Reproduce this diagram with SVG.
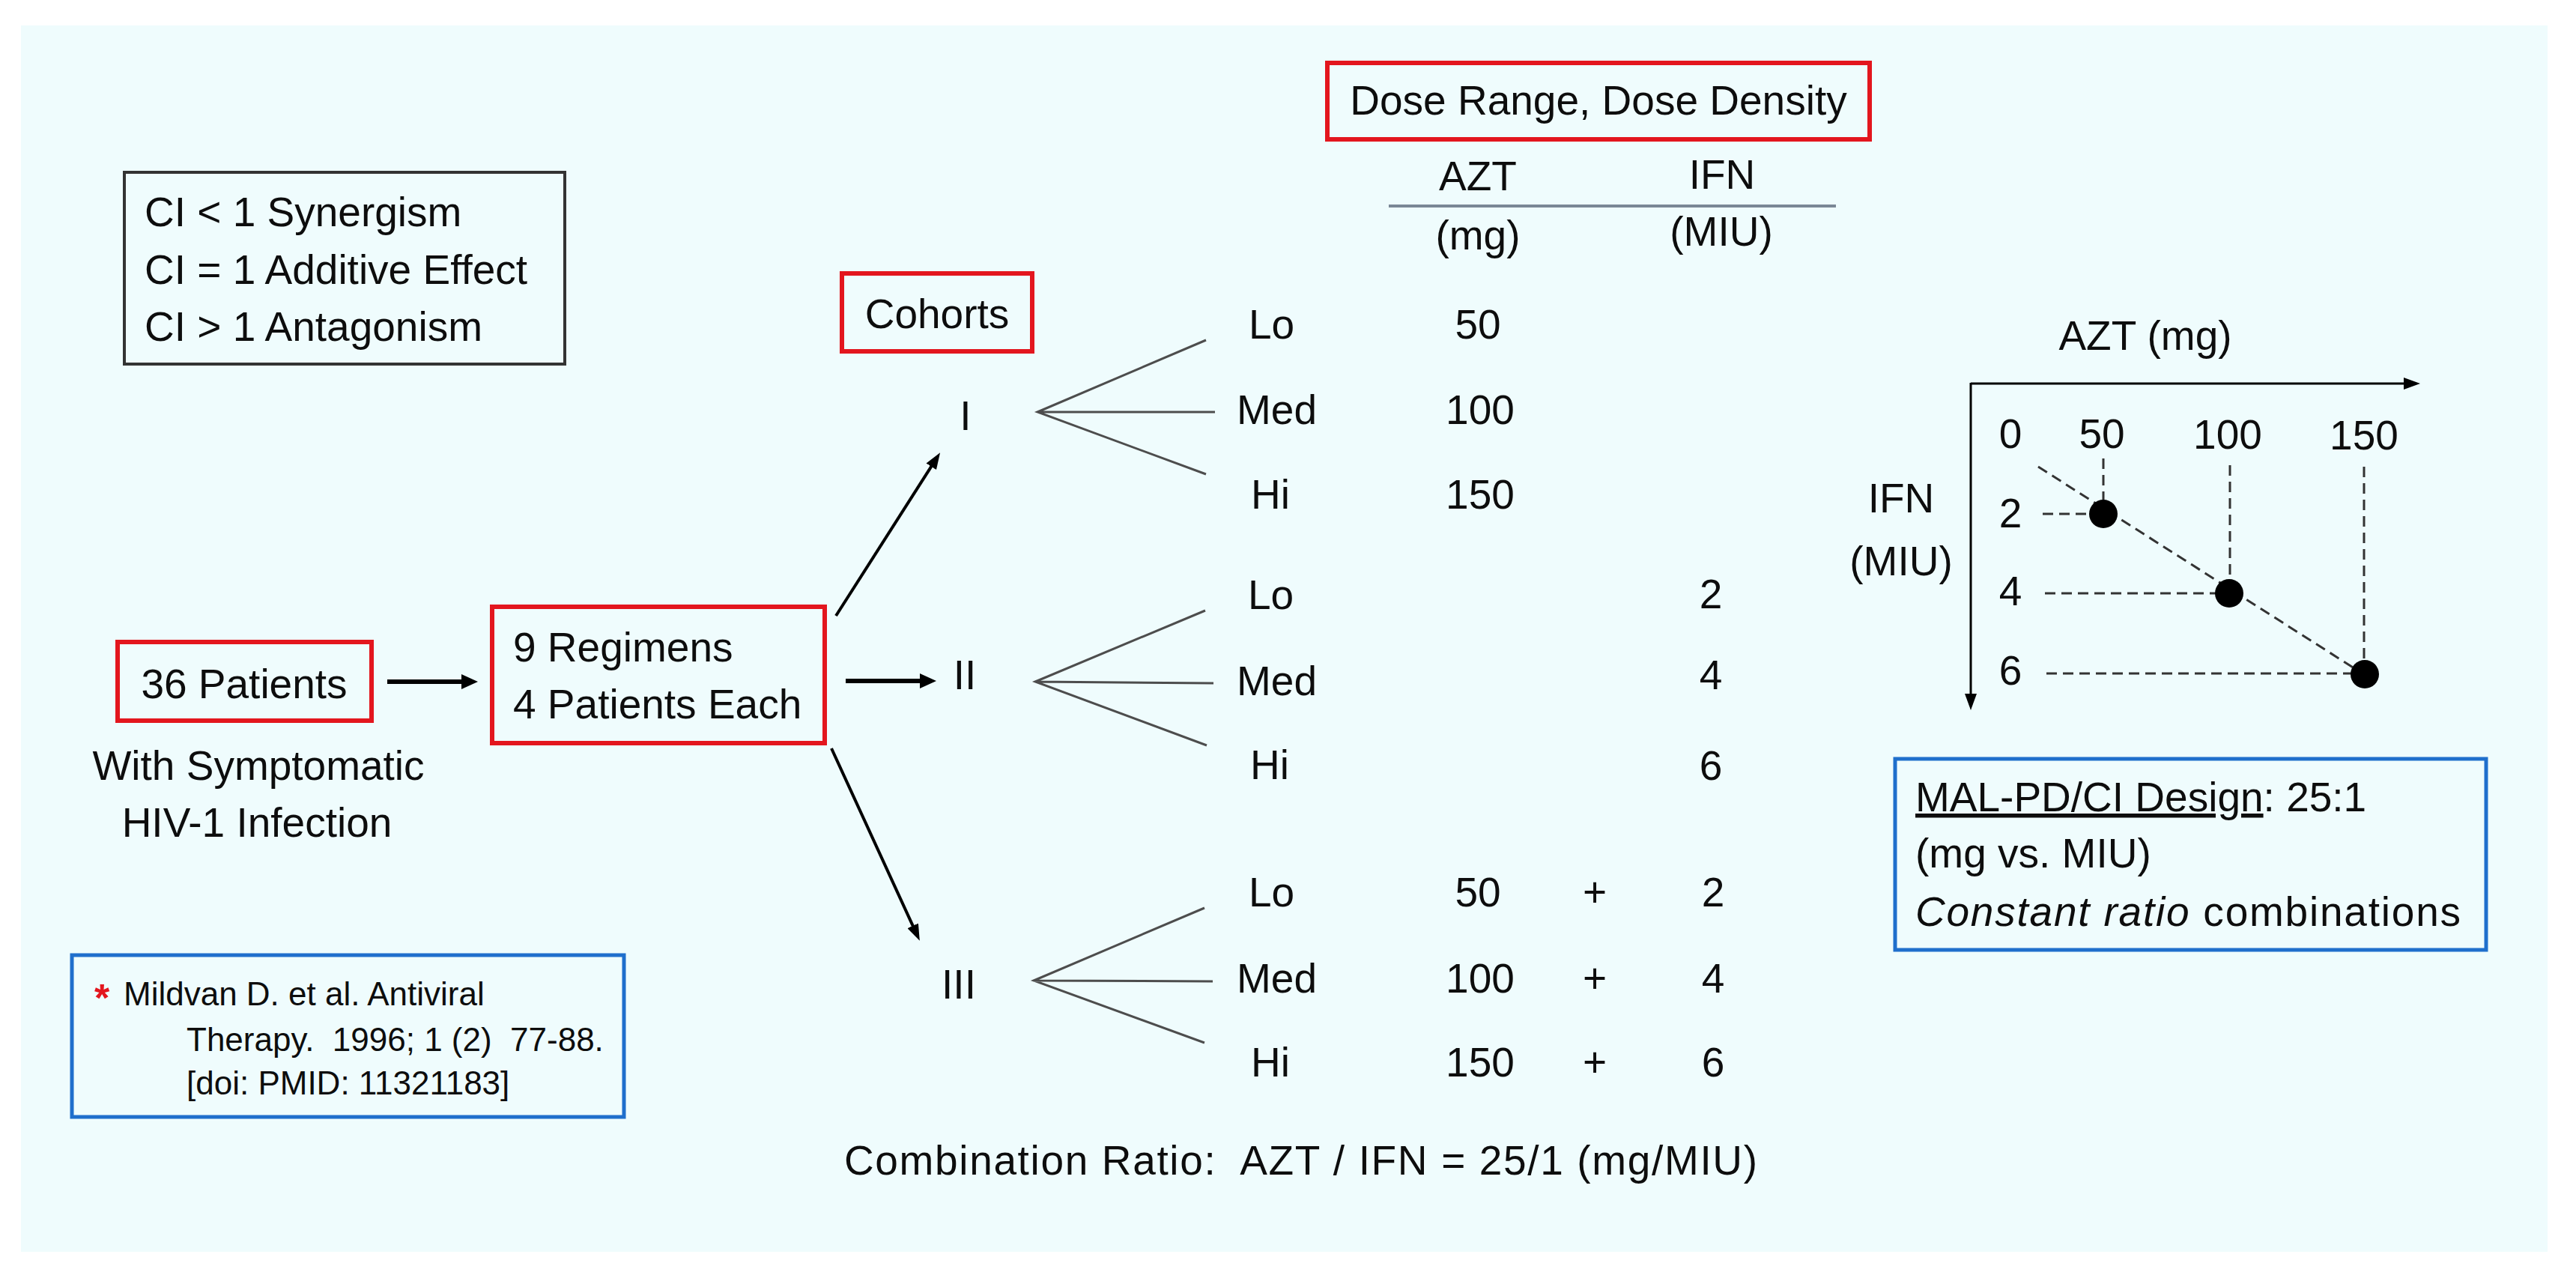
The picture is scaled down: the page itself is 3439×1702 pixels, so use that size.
<svg xmlns="http://www.w3.org/2000/svg" width="3439" height="1702" viewBox="0 0 3439 1702">
<style>
text{font-family:"Liberation Sans",Arial,sans-serif;fill:#0d0d0d;font-size:55px}
.c{text-anchor:middle}
.red{fill:none;stroke:#e3161e;stroke-width:6}
.blue{fill:none;stroke:#1f6fcc;stroke-width:5}
.arr{stroke:#000;stroke-width:4;fill:none}
.arrT{stroke:#000;stroke-width:6;fill:none}
.fan{stroke:#4d4d4d;stroke-width:3;fill:none}
.dash{stroke:#333;stroke-width:3;stroke-dasharray:14 8;fill:none}
.axis{stroke:#000;stroke-width:3;fill:none}
.cit{font-size:44px}
</style>
<defs>
<marker id="ah" markerUnits="userSpaceOnUse" markerWidth="22" markerHeight="16" refX="10" refY="8" orient="auto">
<path d="M0,0 L22,8 L0,16 z" fill="#000"/>
</marker>
<marker id="ahBig" markerUnits="userSpaceOnUse" markerWidth="22" markerHeight="20" refX="10" refY="10" orient="auto">
<path d="M0,0 L22,10 L0,20 z" fill="#000"/>
</marker>
</defs>
<rect x="0" y="0" width="3439" height="1702" fill="#ffffff"/>
<rect x="28" y="34" width="3373" height="1637" fill="#effcfd"/>

<g id="legend">
<rect x="166" y="230" width="588" height="256" fill="none" stroke="#333" stroke-width="4"/>
<text x="193" y="302">CI &lt; 1 Synergism</text>
<text x="193" y="379">CI = 1 Additive Effect</text>
<text x="193" y="455">CI &gt; 1 Antagonism</text>
</g>

<g id="citation">
<rect x="96" y="1275" width="737" height="216" class="blue" stroke-width="4"/>
<text x="126" y="1350" style="fill:#e3161e;font-size:52px;font-weight:bold">*</text>
<text x="165" y="1342" class="cit">Mildvan D. et al. Antiviral</text>
<text x="249" y="1403" class="cit" style="white-space:pre">Therapy.  1996; 1 (2)  77-88.</text>
<text x="249" y="1461" class="cit">[doi: PMID: 11321183]</text>
</g>

<g id="patients">
<rect x="157" y="857" width="339" height="105" class="red"/>
<text x="326" y="932" class="c">36 Patients</text>
<text x="345" y="1041" class="c">With Symptomatic</text>
<text x="343" y="1117" class="c">HIV-1 Infection</text>
</g>

<g id="regimens">
<rect x="657" y="810" width="444" height="182" class="red"/>
<text x="685" y="883">9 Regimens</text>
<text x="685" y="959">4 Patients Each</text>
</g>

<g id="cohorts">
<rect x="1124" y="365" width="254" height="104" class="red"/>
<text x="1251" y="438" class="c">Cohorts</text>
</g>

<g id="dose-range">
<rect x="1772" y="84" width="724" height="102" class="red"/>
<text x="2134" y="153" class="c">Dose Range, Dose Density</text>
<text x="1973" y="254" class="c">AZT</text>
<text x="2299" y="252" class="c">IFN</text>
<line x1="1854" y1="275" x2="2451" y2="275" stroke="#7a8796" stroke-width="4"/>
<text x="1973" y="333" class="c">(mg)</text>
<text x="2298" y="328" class="c">(MIU)</text>
</g>

<g id="cohort-I">
<text x="1289" y="574" class="c">I</text>
<text x="1667" y="452">Lo</text>
<text x="1651" y="566">Med</text>
<text x="1670" y="679">Hi</text>
<text x="1973" y="452" class="c">50</text>
<text x="1976" y="566" class="c">100</text>
<text x="1976" y="679" class="c">150</text>
</g>

<g id="cohort-II">
<text x="1288" y="920" class="c">II</text>
<text x="1666" y="813">Lo</text>
<text x="1651" y="928">Med</text>
<text x="1669" y="1040">Hi</text>
<text x="2284" y="812" class="c">2</text>
<text x="2284" y="920" class="c">4</text>
<text x="2284" y="1041" class="c">6</text>
</g>

<g id="cohort-III">
<text x="1280" y="1333" class="c">III</text>
<text x="1667" y="1210">Lo</text>
<text x="1651" y="1325">Med</text>
<text x="1670" y="1437">Hi</text>
<text x="1973" y="1210" class="c">50</text>
<text x="1976" y="1325" class="c">100</text>
<text x="1976" y="1437" class="c">150</text>
<text x="2129" y="1210" class="c">+</text>
<text x="2129" y="1325" class="c">+</text>
<text x="2129" y="1437" class="c">+</text>
<text x="2287" y="1210" class="c">2</text>
<text x="2287" y="1325" class="c">4</text>
<text x="2287" y="1437" class="c">6</text>
</g>

<g id="ratio">
<text x="1127" y="1568" style="white-space:pre" textLength="1219" lengthAdjust="spacing">Combination Ratio:  AZT / IFN = 25/1 (mg/MIU)</text>
</g>

<g id="connectors">
<line x1="517" y1="910" x2="626" y2="910" class="arrT" marker-end="url(#ahBig)"/>
<line x1="1129" y1="909" x2="1238" y2="909" class="arrT" marker-end="url(#ahBig)"/>
<line x1="1116" y1="822" x2="1248.6" y2="614.4" class="arr" marker-end="url(#ah)"/>
<line x1="1110" y1="999" x2="1222.8" y2="1244.9" class="arr" marker-end="url(#ah)"/>
<path class="fan" d="M1610,454 L1385,550 L1610,633 M1385,550 L1622,550"/>
<path class="fan" d="M1609,815 L1382,910 L1611,995 M1382,910 L1620,912"/>
<path class="fan" d="M1608,1212 L1380,1309 L1608,1392 M1380,1309 L1619,1310"/>
</g>

<g id="chart">
<text x="2864" y="467" class="c">AZT (mg)</text>
<line x1="2631" y1="512" x2="3219" y2="512" class="axis" marker-end="url(#ah)"/>
<line x1="2631" y1="511" x2="2631" y2="936" class="axis" marker-end="url(#ah)"/>
<text x="2684" y="598" class="c">0</text>
<text x="2806" y="598" class="c">50</text>
<text x="2974" y="599" class="c">100</text>
<text x="3156" y="600" class="c">150</text>
<text x="2538" y="684" class="c">IFN</text>
<text x="2538" y="768" class="c">(MIU)</text>
<text x="2684" y="704" class="c">2</text>
<text x="2684" y="808" class="c">4</text>
<text x="2684" y="914" class="c">6</text>
<line x1="2727" y1="686" x2="2808" y2="686" class="dash"/>
<line x1="2730" y1="792" x2="2976" y2="792" class="dash"/>
<line x1="2732" y1="899" x2="3157" y2="899" class="dash"/>
<line x1="2808" y1="612" x2="2808" y2="686" class="dash"/>
<line x1="2977" y1="621" x2="2977" y2="792" class="dash"/>
<line x1="3156" y1="623" x2="3156" y2="899" class="dash"/>
<line x1="2721" y1="623" x2="3157" y2="901" class="dash"/>
<circle cx="2808" cy="686" r="19" fill="#000"/>
<circle cx="2976" cy="792" r="19" fill="#000"/>
<circle cx="3157" cy="900" r="19" fill="#000"/>
</g>

<g id="design">
<rect x="2530" y="1013" width="789" height="255" class="blue"/>
<text x="2557" y="1083"><tspan text-decoration="underline">MAL-PD/CI Design</tspan>: 25:1</text>
<text x="2557" y="1158">(mg vs. MIU)</text>
<text x="2557" y="1236" textLength="728" lengthAdjust="spacing"><tspan font-style="italic">Constant ratio</tspan> combinations</text>
</g>
</svg>
